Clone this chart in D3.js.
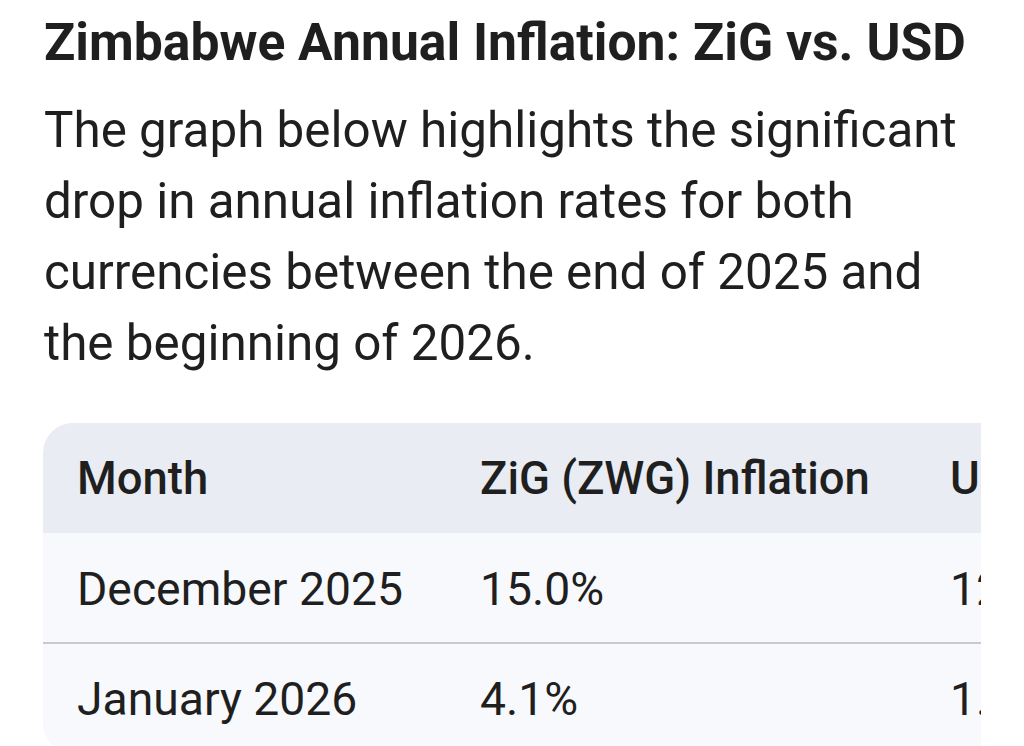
<!DOCTYPE html>
<html lang="en">
<head>
  <meta charset="UTF-8">
  <title>Zimbabwe Annual Inflation: ZiG vs. USD</title>
  <script src="https://d3js.org/d3.v7.min.js"></script>
  <style>
    html, body { margin: 0; padding: 0; background: #fff; overflow: hidden; }
    svg { display: block; font-family: Roboto, "Noto Sans", sans-serif; }
  </style>
</head>
<body>
  <div id="viz"></div>
  <script>
    // Size of the page
    const width = 1024, height = 746;

    // Text
    const title = 'Zimbabwe Annual Inflation: ZiG vs. USD';
    const introLines = [
      'The graph below highlights the significant',
      'drop in annual inflation rates for both',
      'currencies between the end of 2025 and',
      'the beginning of 2026.'
    ];

    // Table data
    const columns = ['Month', 'ZiG (ZWG) Inflation', 'USD Inflation'];
    const months = ['December 2025', 'January 2026'];
    const zigInflation = [15.0, 4.1];
    const usdInflation = [12.0, 1.0];

    const ink = '#1f1f1f';
    const fmt = v => d3.format('.1f')(v) + '%';

    const svg = d3.select('#viz')
      .append('svg')
      .attr('width', width)
      .attr('height', height);

    // scale a text's font-size so it ends up at the target width
    function fit(sel, target) {
      const w = sel.node().getComputedTextLength();
      const fs = parseFloat(sel.attr('font-size'));
      return fs * target / w;
    }

    // Title
    const titleText = svg.append('text')
      .attr('x', 44).attr('y', 60)
      .attr('font-size', 48)
      .attr('font-weight', 700)
      .attr('fill', ink)
      .text(title);
    titleText.attr('font-size', fit(titleText, 922));

    // Intro paragraph
    const lineY = d3.scaleLinear().domain([0, 1]).range([147, 218]);
    const intro = svg.append('g').selectAll('text')
      .data(introLines)
      .join('text')
      .attr('x', 44)
      .attr('y', (d, i) => lineY(i))
      .attr('font-size', 46)
      .attr('fill', ink)
      .text(d => d);
    const introSize = fit(intro.filter((d, i) => i === 0), 913);
    intro.attr('font-size', introSize);

    // Table
    const rows = ['header', ...months];
    const tableLeft = 43, tableRight = 981, tableTop = 423, r = 30;
    const y = d3.scaleBand().domain(rows).range([tableTop, tableTop + 330]);
    const x = d3.scaleOrdinal().domain(columns).range([77, 480, 950]);
    const tableBottom = tableTop + 330;

    const clip = d3.path();
    clip.moveTo(tableLeft + r, tableTop);
    clip.lineTo(tableRight, tableTop);
    clip.lineTo(tableRight, tableBottom);
    clip.lineTo(tableLeft + r, tableBottom);
    clip.arcTo(tableLeft, tableBottom, tableLeft, tableBottom - r, r);
    clip.lineTo(tableLeft, tableTop + r);
    clip.arcTo(tableLeft, tableTop, tableLeft + r, tableTop, r);
    clip.closePath();

    svg.append('defs').append('clipPath').attr('id', 'tableClip')
      .append('path').attr('d', clip.toString());

    const table = svg.append('g').attr('clip-path', 'url(#tableClip)');

    table.selectAll('rect.row')
      .data(rows)
      .join('rect')
      .attr('class', 'row')
      .attr('x', tableLeft)
      .attr('y', d => y(d))
      .attr('width', tableRight - tableLeft)
      .attr('height', y.bandwidth())
      .attr('fill', d => d === 'header' ? '#e9ecf3' : '#f8f9fc');

    // divider between body rows
    table.selectAll('line.divider')
      .data(months.slice(1))
      .join('line')
      .attr('class', 'divider')
      .attr('x1', tableLeft).attr('x2', tableRight)
      .attr('y1', d => y(d)).attr('y2', d => y(d))
      .attr('stroke', '#c8cace')
      .attr('stroke-width', 2);

    // Header cells
    const head = table.selectAll('text.head')
      .data(columns)
      .join('text')
      .attr('class', 'head')
      .attr('x', d => x(d))
      .attr('y', y('header') + y.bandwidth() / 2 + 16)
      .attr('font-size', 40)
      .attr('font-weight', 500)
      .attr('fill', ink)
      .text(d => d);
    head.attr('font-size', fit(head.filter(d => d === columns[1]), 390));

    // Body cells
    const cells = months.flatMap((m, i) => [
      { row: m, col: columns[0], text: m },
      { row: m, col: columns[1], text: fmt(zigInflation[i]) },
      { row: m, col: columns[2], text: fmt(usdInflation[i]) }
    ]);
    const body = table.selectAll('text.cell')
      .data(cells)
      .join('text')
      .attr('class', 'cell')
      .attr('x', d => x(d.col))
      .attr('y', d => y(d.row) + y.bandwidth() / 2 + 17)
      .attr('font-size', 40)
      .attr('fill', ink)
      .text(d => d.text);
    body.attr('font-size', fit(body.filter(d => d.text === months[0]), 326));
  </script>
</body>
</html>
